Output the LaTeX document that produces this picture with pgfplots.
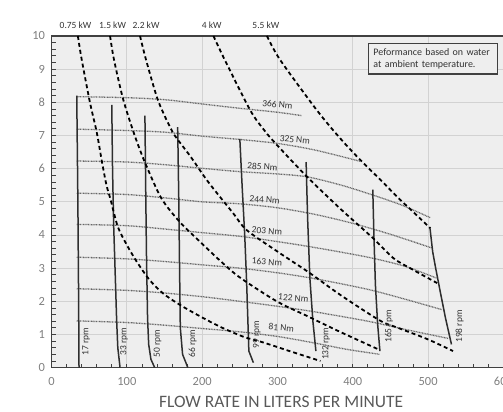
\documentclass[border=0pt]{standalone}
\usepackage{fontspec}
\setmainfont{Carlito}
\usepackage{pgfplots}
\pgfplotsset{compat=1.18}
\definecolor{plotbg}{HTML}{EEEEEE}
\definecolor{gridc}{HTML}{D2D2D2}
\definecolor{axisc}{HTML}{404040}
\definecolor{tickc}{HTML}{808080}
\definecolor{titlec}{HTML}{595959}
\definecolor{rpmc}{HTML}{2E2E2E}
\definecolor{nmc}{HTML}{666666}
\definecolor{lblc}{HTML}{333333}
\tikzset{
  rpm/.style={rpmc, line width=1.5bp},
  torque/.style={nmc, line width=1.3bp, dash pattern=on 0.9bp off 0.7bp, smooth},
  power/.style={black, line width=1.8bp, dash pattern=on 4bp off 3bp, smooth},
  lbl/.style={font=\fontsize{9.5}{11}\selectfont, text=lblc, inner sep=0pt},
}
\begin{document}
\begin{tikzpicture}
\begin{axis}[
  scale only axis, width=452bp, height=331.7bp,
  xmin=0, xmax=600, ymin=0, ymax=10,
  xtick={0,100,...,600}, ytick={0,1,...,10},
  minor x tick num=4, minor y tick num=4,
  xtick pos=bottom, ytick pos=left,
  tick align=inside,
  major tick length=4bp, minor tick length=4bp,
  every tick/.style={axisc, line width=0.8bp},
  grid=major, major grid style={gridc, line width=0.8bp},
  axis line style={axisc, line width=1.2bp},
  axis background/.style={fill=plotbg},
  tick label style={font=\fontsize{12.5}{14}\selectfont, text=tickc},
  /pgf/number format/assume math mode=true,
  xticklabel style={yshift=-6bp},
  yticklabel style={xshift=-3bp},
  xlabel={FLOW RATE IN LITERS PER MINUTE},
  xlabel style={font=\fontsize{17.5}{20}\selectfont, text=titlec,
    at={(axis description cs:0.508,-0.102)}, anchor=center},
  clip=false,
]
% torque lines
\addplot[torque] coordinates {(33.5,8.17)(100,8.14)(150,8.08)(200,7.95)(250,7.82)(300,7.7)(332,7.6)};
\addplot[torque] coordinates {(33.5,7.19)(100,7.15)(150,7.1)(200,6.98)(250,6.88)(300,6.76)(350,6.56)(410,6.22)};
\addplot[torque] coordinates {(33.5,6.23)(100,6.2)(150,6.12)(200,6.01)(250,5.91)(300,5.84)(340,5.75)(385,5.5)(427,5.2)(465,4.9)(503,4.52)};
\addplot[torque] coordinates {(33.5,5.26)(100,5.22)(150,5.12)(200,5.0)(250,4.94)(300,4.82)(350,4.62)(400,4.35)(450,4.02)(506,3.6)};
\addplot[torque] coordinates {(33.5,4.32)(100,4.28)(150,4.18)(200,4.07)(250,3.96)(300,3.8)(350,3.62)(420,3.33)(470,3.05)(511,2.7)};
\addplot[torque] coordinates {(33.5,3.33)(100,3.28)(150,3.2)(200,3.1)(250,3.0)(300,2.86)(350,2.68)(420,2.36)(470,2.06)(518,1.75)};
\addplot[torque] coordinates {(33.5,2.38)(100,2.33)(150,2.25)(200,2.14)(250,2.0)(300,1.85)(350,1.68)(420,1.4)(470,1.15)(527,0.88)};
\addplot[torque] coordinates {(33.5,1.41)(100,1.36)(150,1.28)(200,1.18)(250,1.08)(300,0.94)(350,0.74)(390,0.56)(436,0.4)};
% rpm lines
\addplot[rpm] coordinates {(33.5,8.2)(35,5)(36,2)(36.5,0)};
\addplot[rpm] coordinates {(80,7.92)(81,6)(82.5,4.3)(85,2.5)(86.5,1.4)(88,0.6)(91,0)};
\addplot[rpm] coordinates {(124,7.6)(125,5.5)(126,3.5)(127.5,1.5)(129,0.7)(132,0.25)(137,0)};
\addplot[rpm] coordinates {(167.5,7.25)(169,5)(170,3)(171,1.2)(174,0.4)(181,0)};
\addplot[rpm] coordinates {(250,6.9)(253,5.5)(256.5,4)(259,2.6)(261,1.2)(262,0.5)(268,0.15)};
\addplot[rpm] coordinates {(338,6.2)(340,4.5)(343,2.7)(347,1.4)(351,0.5)};
\addplot[rpm] coordinates {(426.5,5.37)(428,4)(430,2.5)(433,1.3)(436,0.5)};
\addplot[rpm] coordinates {(502.5,4.2)(506,3.5)(510,3)(516,2.3)(523,1.5)(531,0.7)};
% power lines
\addplot[power] coordinates {(35,10)(40,9.3)(51,8.0)(60,7.1)(67,6.2)(73,5.5)(78,5.1)(88,4.25)(100,3.7)(113,3.2)(130,2.65)(148,2.24)(170,1.9)(197,1.55)(225,1.22)(255,0.93)(281,0.76)(320,0.47)(357,0.2)};
\addplot[power] coordinates {(77.7,10)(83,9.28)(95,8.1)(108.6,7.12)(117.5,6.56)(126.4,6.06)(146,5.1)(170,4.4)(197,3.8)(225,3.2)(250,2.72)(299,2.0)(340,1.55)(383,1.08)(436,0.53)};
\addplot[power] coordinates {(117.5,10)(125.5,9.28)(139.7,8.17)(150,7.6)(162,7.05)(168,6.86)(185,6.35)(208,5.6)(241,4.66)(259,4.15)(300,3.5)(343,2.85)(383,2.2)(436,1.42)(460,1.2)(500,0.85)(533,0.5)};
\addplot[power] coordinates {(215,10)(230,9.28)(263.6,7.77)(281,7.2)(297,6.77)(339,5.76)(383,4.8)(427,3.9)(454,3.3)(480,2.95)(512,2.55)};
\addplot[power] coordinates {(286,10)(303.5,9.28)(352,7.77)(383,6.92)(410,6.26)(435,5.7)(463,5.06)(480,4.7)(503,4.2)};
% torque labels
\node[lbl, rotate=-5] at (axis cs:300,7.93) {366 Nm};
\node[lbl, rotate=-5] at (axis cs:323,6.87) {325 Nm};
\node[lbl, rotate=-4] at (axis cs:280,6.06) {285 Nm};
\node[lbl, rotate=-4] at (axis cs:283,5.06) {244 Nm};
\node[lbl, rotate=-4] at (axis cs:286,4.12) {203 Nm};
\node[lbl, rotate=-4] at (axis cs:286,3.19) {163 Nm};
\node[lbl, rotate=-5] at (axis cs:321,2.1) {122 Nm};
\node[lbl, rotate=-5] at (axis cs:305,1.2) {81 Nm};
% rpm labels
\node[lbl, rotate=90] at (axis cs:45.8,0.78) {17 rpm};
\node[lbl, rotate=90] at (axis cs:96.3,0.78) {33 rpm};
\node[lbl, rotate=90] at (axis cs:140.8,0.72) {50 rpm};
\node[lbl, rotate=90] at (axis cs:187.5,0.72) {66 rpm};
\node[lbl, rotate=90] at (axis cs:272.5,0.99) {99 rpm};
\node[lbl, rotate=90] at (axis cs:364.5,0.72) {132 rpm};
\node[lbl, rotate=90] at (axis cs:448,1.24) {165 rpm};
\node[lbl, rotate=90] at (axis cs:542,1.24) {198 rpm};
% power labels
\node[lbl] at (axis cs:31.9,10.32) {0.75 kW};
\node[lbl] at (axis cs:81,10.32) {1.5 kW};
\node[lbl] at (axis cs:125.5,10.32) {2.2 kW};
\node[lbl] at (axis cs:212.7,10.32) {4 kW};
\node[lbl] at (axis cs:284.6,10.32) {5.5 kW};
% note
\node[draw=axisc, line width=1.2bp, fill=plotbg, anchor=north west,
      text width=119bp, inner xsep=5bp, inner ysep=5bp, align=left,
      font=\fontsize{10}{12}\selectfont, text=lblc]
  at (axis cs:420,9.79) {Peformance based on water at ambient temperature.};
\coordinate (bbsw) at (rel axis cs:-0.114,-0.1336);
\coordinate (bbne) at (rel axis cs:0.999,1.1085);
\end{axis}
\pgfresetboundingbox
\useasboundingbox (bbsw) rectangle (bbne);
\end{tikzpicture}
\end{document}
